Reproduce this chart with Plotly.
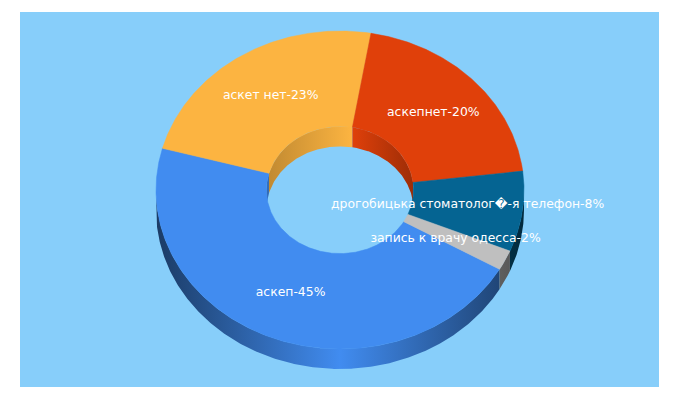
import numpy as np
import plotly.graph_objects as go

labels = ['аскеп', 'аскет нет', 'аскепнет', 'дрогобицька стоматолог\ufffd-я телефон', 'запись к врачу одесса']
values = [45, 23, 20, 8, 2]
colors = ['#418CF0', '#FCB441', '#E0400A', '#056492', '#BFBFBF']

START = 119.9  # degrees clockwise from the top, where the first slice begins
CX, CY = 340, 190
RX, RY = 184, 159
HOLE = 0.4
DEPTH = 20
LABEL_R = 0.7


def arc(a0, a1, r, dy=0):
    t = np.radians(np.linspace(a0, a1, max(int(abs(a1 - a0)) * 2, 2) + 1))
    return CX + RX * r * np.sin(t), CY - RY * r * np.cos(t) + dy


def shade(hex_color, k):
    rgb = [int(hex_color[i:i + 2], 16) for i in (1, 3, 5)]
    return 'rgb({},{},{})'.format(*[round(c * k) for c in rgb])


def add_wall(fig, a0, a1, r, color, stops):
    # side of the ring between two angles, gradient runs over the whole width of the ring
    x1, y1 = arc(a0, a1, r)
    x2, y2 = arc(a1, a0, r, DEPTH)
    fig.add_trace(go.Scatter(
        x=np.r_[x1, x2, x1[0]], y=np.r_[y1, y2, y1[0]],
        mode='lines', line=dict(width=0), fill='toself', hoverinfo='skip',
        fillgradient=dict(type='horizontal', start=CX - RX * r, stop=CX + RX * r,
                          colorscale=[[p, shade(color, k)] for p, k in stops]),
    ))


shares = np.array(values) / sum(values) * 360
ends = START + np.cumsum(shares)
starts = ends - shares

fig = go.Figure()

# outer wall, only the front half shows
outer_stops = [[0, 0.42], [0.5, 1], [1, 0.42]]
for a0, a1, c in zip(starts, ends, colors):
    for turn in (-360, 0, 360):
        lo, hi = max(a0 + turn, 90), min(a1 + turn, 270)
        if lo < hi:
            add_wall(fig, lo, hi, 1, c, outer_stops)

# inner wall, only the back half shows
inner_stops = [[0, 0.76], [0.58, 1], [1, 0.7]]
for a0, a1, c in zip(starts, ends, colors):
    for turn in (-360, 0, 360):
        lo, hi = max(a0 + turn, 270), min(a1 + turn, 450)
        if lo < hi:
            add_wall(fig, lo, hi, HOLE, c, inner_stops)

# top face
for a0, a1, c in zip(starts, ends, colors):
    x1, y1 = arc(a0, a1, 1)
    x2, y2 = arc(a1, a0, HOLE)
    fig.add_trace(go.Scatter(
        x=np.r_[x1, x2, x1[0]], y=np.r_[y1, y2, y1[0]],
        mode='lines', line=dict(width=0.5, color=c), fill='toself', fillcolor=c, hoverinfo='skip',
    ))

mids = np.radians((starts + ends) / 2)
fig.add_trace(go.Scatter(
    x=CX + RX * LABEL_R * np.sin(mids),
    y=CY - RY * LABEL_R * np.cos(mids),
    mode='text',
    text=[f'{l}-{v}%' for l, v in zip(labels, values)],
    textposition='middle center',
    textfont=dict(family='DejaVu Sans', size=12.4, color='white'),
    hoverinfo='skip',
))

fig.update_layout(
    width=680, height=400,
    margin=dict(l=20, r=21, t=12, b=13, pad=0),
    paper_bgcolor='white', plot_bgcolor='#87CEFA',
    showlegend=False,
    xaxis=dict(range=[20, 659], visible=False, fixedrange=True),
    yaxis=dict(range=[387, 12], visible=False, fixedrange=True),
)
fig.write_html("out.html", config={'displayModeBar': False}, post_script="document.body.style.margin='0';")
